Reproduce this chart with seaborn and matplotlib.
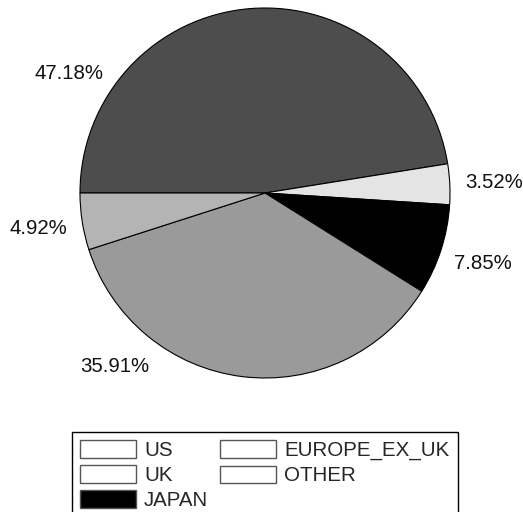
import numpy as np
import matplotlib
matplotlib.use("Agg")
import matplotlib.pyplot as plt
from matplotlib.patches import Patch
import seaborn as sns

# data
regions = ["US", "UK", "JAPAN", "EUROPE_EX_UK", "OTHER"]
shares = [47.18, 3.52, 7.85, 35.91, 4.92]

# slice colours and legend swatch colours (legend keeps white boxes except JAPAN)
slice_colors = ["#4d4d4d", "#e4e4e4", "#000000", "#9a9a9a", "#b4b4b4"]
legend_colors = ["#ffffff", "#ffffff", "#000000", "#ffffff", "#ffffff"]

# label angles (degrees): the two big slices have their labels pushed to the left
label_angle_override = {0: 148.6, 3: 229.0}

sns.set_style("white")
plt.rcParams["font.family"] = ["Liberation Sans", "DejaVu Sans"]

fig = plt.figure(figsize=(5.23, 5.12), dpi=100)
ax = fig.add_axes([80 / 523, 134 / 512, 370 / 523, 370 / 512])

wedges, _ = ax.pie(shares, colors=slice_colors, startangle=180, counterclock=False,
                   wedgeprops=dict(edgecolor="black", linewidth=0.8))

# percentage labels
for i, w in enumerate(wedges):
    ang = label_angle_override.get(i, (w.theta1 + w.theta2) / 2)
    x = 1.24 * np.cos(np.radians(ang))
    y = 1.24 * np.sin(np.radians(ang))
    ax.text(x, y, f"{shares[i]:.2f}%", ha="center", va="center", fontsize=14.7,
            color="#111111")

ax.set_xlim(-1, 1)
ax.set_ylim(-1, 1)
ax.set_aspect("auto")
ax.axis("off")

handles = [Patch(facecolor=c, edgecolor="#555555", linewidth=1) for c in legend_colors]
leg = fig.legend(handles, regions, ncol=2, loc="upper left",
                 bbox_to_anchor=(72 / 523, 1 - 432 / 512), borderaxespad=0,
                 fontsize=14.8, handlelength=2.7, handleheight=0.95,
                 handletextpad=0.4, columnspacing=0.6, labelspacing=0.25,
                 borderpad=0.4, fancybox=False, framealpha=1, edgecolor="black")
leg.get_frame().set_linewidth(1)

fig.savefig("out.png", dpi=100)
